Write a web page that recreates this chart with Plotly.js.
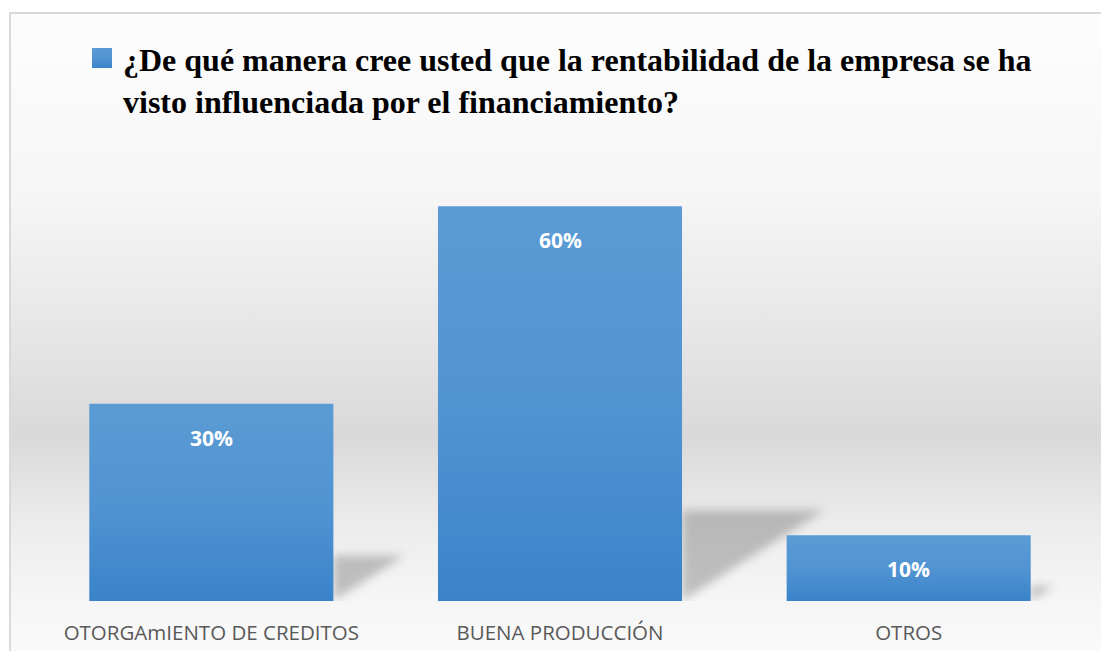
<!DOCTYPE html>
<html>
<head>
<meta charset="utf-8">
<script src="https://cdn.plot.ly/plotly-3.0.1.min.js"></script>
<style>
  html, body { margin: 0; padding: 0; background: #ffffff; }
  #frame {
    position: absolute; left: 9px; top: 12px; width: 1092px; height: 639px;
    border-left: 2px solid #d9d9d9; border-top: 2px solid #d9d9d9;
    background: linear-gradient(to bottom, #fdfdfd 0%, #f6f6f6 28%, #e6e6e6 50%, #d9d9d9 66%, #ececec 80%, #f6f6f6 92%, #fafafa 100%);
  }
  #chart { position: absolute; left: 0; top: 0; width: 1101px; height: 651px; }
</style>
</head>
<body>
<div id="frame"></div>
<div id="chart"></div>
<script>
const seriesName = "¿De qué manera cree usted que la rentabilidad de la empresa se ha<br>visto influenciada por el financiamiento?";
const categories = ["OTORGAmIENTO DE CREDITOS", "BUENA PRODUCCIÓN", "OTROS"];
const values = [30, 60, 10];
const valueLabels = ["30%", "60%", "10%"];

const positions = categories.map((c, i) => i);
const barWidth = 0.70;

// perspective shadows derived from the values
const shapes = values.map((v, i) => {
  const xr = positions[i] + barWidth / 2;
  const h = v * 0.23;
  const w = v * 0.0068;
  return {
    type: 'path', layer: 'below', xref: 'x', yref: 'y',
    path: `M ${xr},0 L ${xr},${h} L ${xr + w},${h} Z`,
    fillcolor: 'rgba(0,0,0,0.22)', line: { width: 0 }
  };
});
// legend square
shapes.push({
  type: 'rect', xref: 'paper', yref: 'paper',
  x0: (92 - 37) / 1046, x1: (112 - 37) / 1046,
  y0: (601 - 68) / 421, y1: (601 - 48) / 421,
  fillcolor: '#4a8fd1', line: { width: 0 }
});

const annotations = values.map((v, i) => ({
  x: positions[i], y: v, xref: 'x', yref: 'y',
  text: valueLabels[i], showarrow: false,
  yanchor: 'top', yshift: -18,
  font: { family: 'Open Sans', size: 21, color: '#ffffff', weight: 'bold' }
}));

const trace = {
  type: 'bar', name: seriesName,
  x: positions, y: values, width: barWidth,
  marker: { color: '#4a8fd1', line: { width: 0 } },
  hoverinfo: 'skip', showlegend: false
};

const layout = {
  width: 1101, height: 651,
  paper_bgcolor: 'rgba(0,0,0,0)', plot_bgcolor: 'rgba(0,0,0,0)',
  margin: { l: 37, r: 18, t: 180, b: 50 },
  title: {
    text: '<b>' + seriesName + '</b>',
    x: 123 / 1101, xanchor: 'left', xref: 'container',
    y: 1 - 71 / 651, yanchor: 'top', yref: 'container',
    font: { family: 'Liberation Serif', size: 32, color: '#000000' }
  },
  xaxis: {
    type: 'linear', range: [-0.5, 2.5],
    tickvals: positions, ticktext: categories,
    showgrid: false, zeroline: false, showline: false, ticks: '',
    ticklabelstandoff: 17,
    tickfont: { family: 'Open Sans', size: 20.5, color: '#595959' },
    fixedrange: true
  },
  yaxis: {
    range: [0, 64], visible: false, showgrid: false, zeroline: false, fixedrange: true
  },
  shapes: shapes,
  annotations: annotations,
  showlegend: false
};

Plotly.newPlot('chart', [trace], layout, { staticPlot: true, displayModeBar: false }).then(gd => {
  const svg = gd.querySelector('svg.main-svg');
  const ns = 'http://www.w3.org/2000/svg';
  let defs = svg.querySelector('defs');
  if (!defs) { defs = document.createElementNS(ns, 'defs'); svg.insertBefore(defs, svg.firstChild); }
  const grad = document.createElementNS(ns, 'linearGradient');
  grad.setAttribute('id', 'barGrad');
  grad.setAttribute('x1', '0'); grad.setAttribute('y1', '0');
  grad.setAttribute('x2', '0'); grad.setAttribute('y2', '1');
  [['0', '#5b9bd5'], ['0.5', '#5194d2'], ['1', '#3a83ca']].forEach(([o, c]) => {
    const s = document.createElementNS(ns, 'stop');
    s.setAttribute('offset', o); s.setAttribute('stop-color', c);
    grad.appendChild(s);
  });
  defs.appendChild(grad);
  const filt = document.createElementNS(ns, 'filter');
  filt.setAttribute('id', 'shBlur');
  filt.setAttribute('x', '-50%'); filt.setAttribute('y', '-50%');
  filt.setAttribute('width', '200%'); filt.setAttribute('height', '200%');
  const blur = document.createElementNS(ns, 'feGaussianBlur');
  blur.setAttribute('stdDeviation', '5');
  filt.appendChild(blur);
  defs.appendChild(filt);

  gd.querySelectorAll('.barlayer .point path').forEach(p => { p.style.fill = 'url(#barGrad)'; });
  gd.querySelectorAll('path[data-index]').forEach(p => {
    const idx = +p.getAttribute('data-index');
    if (idx < values.length) {
      p.setAttribute('filter', 'url(#shBlur)');
      p.style.filter = 'url(#shBlur)';
    } else {
      p.style.fill = 'url(#barGrad)';
    }
  });
});
</script>
</body>
</html>
